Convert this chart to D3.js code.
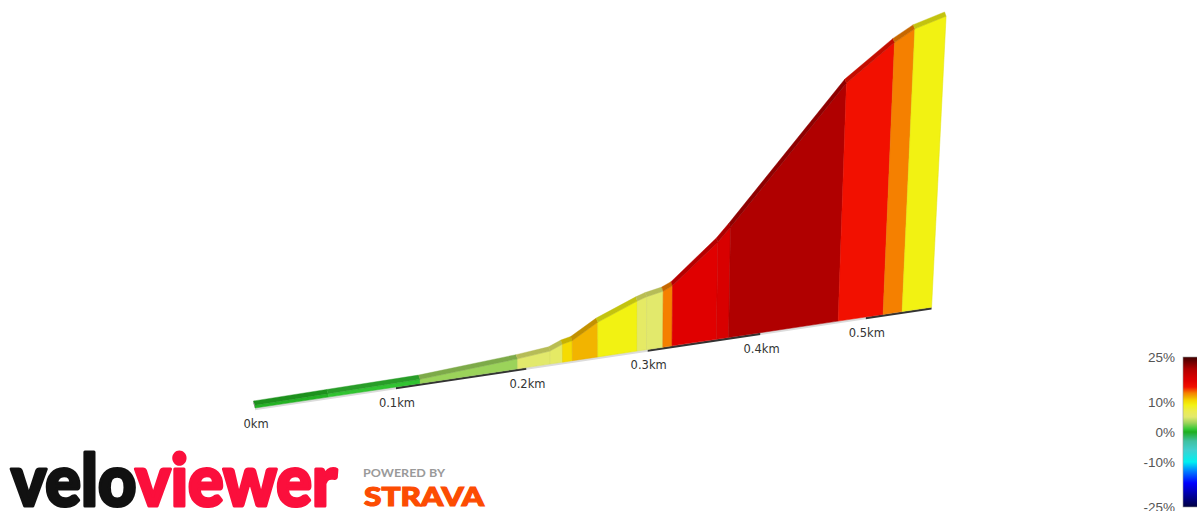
<!DOCTYPE html>
<html>
<head>
<meta charset="utf-8">
<script src="https://cdn.jsdelivr.net/npm/d3@7"></script>
<style>
  html, body { margin: 0; padding: 0; background: #fff; }
  svg { display: block; }
</style>
</head>
<body>
<svg id="chart" width="1197" height="511"></svg>
<script>
// ---------- data ----------
const distKm = [0, 0.051, 0.118, 0.193, 0.219, 0.229, 0.237, 0.258, 0.291, 0.299, 0.313, 0.321, 0.360, 0.371, 0.473, 0.517, 0.536, 0.566];
const elevM  = [0.40, 0.50, 0.62, 1.55, 2.03, 2.82, 3.15, 5.50, 8.03, 8.53, 9.06, 9.74, 15.97, 18.20, 40.70, 47.20, 49.40, 51.35];
const gradePct = [0.2, 0.8, 3.0, 5.0, 5.5, 10.3, 11.5, 9.0, 5.5, 5.0, 13.0, 17.0, 18.0, 21.0, 15.0, 13.0, 9.0];
const kmTicks = [0, 0.1, 0.2, 0.3, 0.4, 0.5];
const gradeTicks = [25, 10, 0, -10, -25];
const gradeStops = [-25, -21, -17, -13, -10, -6, -3, 0, 1, 3, 5, 7, 9, 10.5, 11.5, 13, 15, 17, 18, 21, 25];
const gradeColors = ['#000040','#0000a0','#0000ff','#0080ff','#00f0f0','#40d0d0','#40c0a0','#1fae1f','#36c836','#9bd35a','#e2e96c','#ecec50','#f2f212','#f5d800','#f2b400','#f58000','#f21000','#e00000','#d80000','#b00000','#400000'];

// ---------- scales ----------
const svg = d3.select('#chart');
const road = d3.scaleLinear().domain([0, 1]).range([0, 1466]);          // km -> unprojected px
const elev = d3.scaleLinear().domain([0, 51.35]).range([0, 356.9]);    // m -> unprojected px
const color = d3.scaleLinear().domain(gradeStops).range(gradeColors).clamp(true);
const persp = d => 1 / (1 + 0.4 * d);
const X0 = 255, Y0 = 408, baseSlope = -0.149;
const DEPTH = [-1.5, -4.2];

function proj(d, e) {
  const p = persp(d);
  const bx = X0 + road(d) * p;
  const by = Y0 + baseSlope * (bx - X0);
  const h = elev(e) * p;
  const lean = 0.00016 * (bx - 620);
  return [bx + lean * h, by - h];
}
const base = d => proj(d, 0);
const shift = (pt, v) => [pt[0] + v[0], pt[1] + v[1]];
const poly = pts => 'M' + pts.map(p => p[0].toFixed(2) + ',' + p[1].toFixed(2)).join('L') + 'Z';

// ---------- base band (alternating per 0.1 km) ----------
const endKm = distKm[distKm.length - 1];
const bandEdges = kmTicks.concat([endKm]);
const bandG = svg.append('g');
for (let i = 0; i < bandEdges.length - 1; i++) {
  const a = base(bandEdges[i]), b = base(bandEdges[i + 1]);
  bandG.append('path')
    .attr('d', poly([a, b, shift(b, [0, 2.3]), shift(a, [0, 2.3])]))
    .attr('fill', i % 2 === 0 ? '#dcdcdc' : '#333333');
}

// ---------- front faces ----------
const faceG = svg.append('g');
const stripG = svg.append('g');
for (let i = 0; i < distKm.length - 1; i++) {
  const d0 = distKm[i], d1 = distKm[i + 1];
  const c = color(gradePct[i]);
  const b0 = base(d0), b1 = base(d1), t0 = proj(d0, elevM[i]), t1 = proj(d1, elevM[i + 1]);
  faceG.append('path')
    .attr('d', poly([b0, b1, t1, t0]))
    .attr('fill', c)
    .attr('stroke', d3.color(c).darker(0.2))
    .attr('stroke-width', 0.5)
    .attr('stroke-linejoin', 'round');
  stripG.append('path')
    .attr('d', poly([t0, t1, shift(t1, DEPTH), shift(t0, DEPTH)]))
    .attr('fill', d3.color(c).darker(0.6))
    .attr('stroke', d3.color(c).darker(0.6))
    .attr('stroke-width', 0.4);
}
// start cap
{
  const b = base(0), t = proj(0, elevM[0]);
  svg.append('path')
    .attr('d', poly([b, t, shift(t, DEPTH), shift(b, DEPTH)]))
    .attr('fill', '#7a7a7a');
}

// ---------- distance labels ----------
svg.append('g').selectAll('text').data(kmTicks).join('text')
  .attr('x', d => base(d)[0] + 1)
  .attr('y', d => base(d)[1] + 20)
  .attr('text-anchor', 'middle')
  .attr('font-family', 'DejaVu Sans, Verdana, sans-serif')
  .attr('font-size', 11.5)
  .attr('fill', '#333')
  .text(d => (d === 0 ? '0' : d3.format('.1f')(d)) + 'km');

// ---------- colour bar ----------
const gy = d3.scaleLinear().domain([-25, 25]).range([507, 357]);
const defs = svg.append('defs');
const grad = defs.append('linearGradient').attr('id', 'gbar')
  .attr('x1', 0).attr('y1', 0).attr('x2', 0).attr('y2', 1);
d3.range(0, 101).map(k => 25 - k * 0.5).forEach(g => {
  grad.append('stop').attr('offset', ((25 - g) / 50).toFixed(3)).attr('stop-color', color(g));
});
svg.append('rect')
  .attr('x', 1183).attr('y', gy(25)).attr('width', 20).attr('height', gy(-25) - gy(25))
  .attr('fill', 'url(#gbar)').attr('stroke', '#999').attr('stroke-width', 0.6);
svg.append('g').selectAll('text').data(gradeTicks).join('text')
  .attr('x', 1175)
  .attr('y', d => gy(d) + 5)
  .attr('text-anchor', 'end')
  .attr('font-family', 'Liberation Sans, Arial, sans-serif')
  .attr('font-size', 13.5)
  .attr('fill', '#555')
  .text(d => d + '%');

// ---------- logos ----------
const logo = svg.append('text').attr('x', 11).attr('y', 506)
  .attr('font-family', 'Lato, sans-serif').attr('font-weight', 900).attr('font-size', 72)
  .attr('stroke-width', 3.2).attr('stroke-linejoin', 'round')
  .attr('textLength', 326).attr('lengthAdjust', 'spacingAndGlyphs');
logo.append('tspan').attr('fill', '#111').attr('stroke', '#111').text('velo');
logo.append('tspan').attr('fill', '#fb0f3c').attr('stroke', '#fb0f3c').text('viewer');
svg.append('text').attr('x', 363).attr('y', 477)
  .attr('font-family', 'Lato, sans-serif').attr('font-weight', 700).attr('font-size', 11)
  .attr('fill', '#9a9a9a').attr('textLength', 82).attr('lengthAdjust', 'spacingAndGlyphs')
  .text('POWERED BY');
svg.append('text').attr('x', 364).attr('y', 506)
  .attr('font-family', 'Lato, sans-serif').attr('font-weight', 900).attr('font-size', 27)
  .attr('fill', '#fc4c02').attr('stroke', '#fc4c02').attr('stroke-width', 1.2)
  .attr('textLength', 120).attr('lengthAdjust', 'spacingAndGlyphs')
  .text('STRAVA');
</script>
</body>
</html>
